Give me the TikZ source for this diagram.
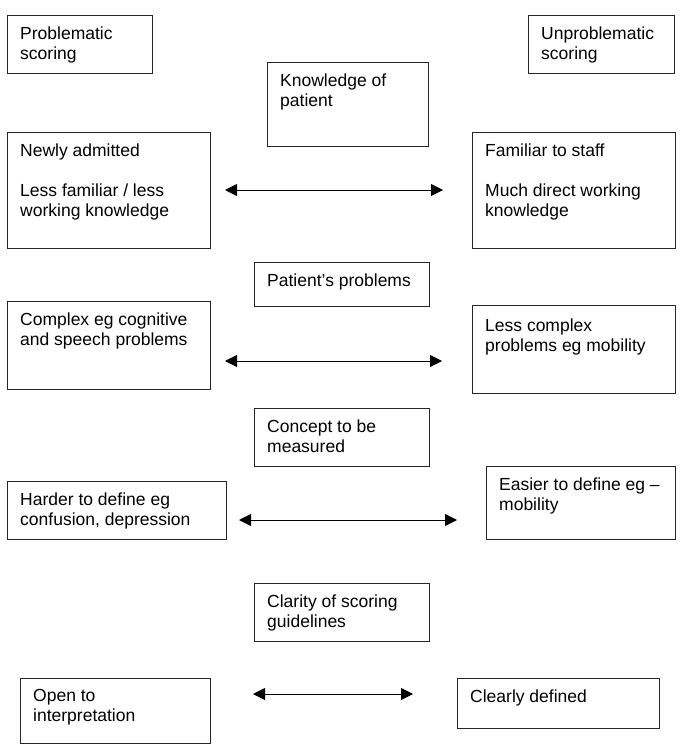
\documentclass[tikz,border=0pt]{standalone}
\usepackage{fontspec}
\setmainfont{Liberation Sans}
\usetikzlibrary{arrows.meta}

\begin{document}
\begin{tikzpicture}[x=1pt,y=-1pt]
\tikzset{box/.style={draw=black!85, line width=0.9pt, inner sep=0pt, anchor=north west},
    txt/.style={anchor=north west, align=left, inner xsep=13pt, inner ysep=11.5pt,
        font=\fontsize{17.5}{20}\selectfont},
    link/.style={line width=0.9pt, {Triangle[length=12pt,width=12pt]}-{Triangle[length=12pt,width=12pt]}}}
\useasboundingbox (0,0) rectangle (685,754);
% headings
\node[box, minimum width=145pt, minimum height=58pt,
    label={[txt]north west:{Problematic\\scoring}}] (prob) at (7,15) {};
\node[box, minimum width=146pt, minimum height=58pt,
    label={[txt]north west:{Unproblematic\\scoring}}] (unprob) at (528,15) {};
% knowledge of patient
\node[box, minimum width=161pt, minimum height=84pt,
    label={[txt]north west:{Knowledge of\\patient}}] (know) at (267,62) {};
\node[box, minimum width=203pt, minimum height=116pt,
    label={[txt]north west:{Newly admitted\\[20pt]Less familiar / less\\working knowledge}}] (newly) at (7,132) {};
\node[box, minimum width=203pt, minimum height=116pt,
    label={[txt]north west:{Familiar to staff\\[20pt]Much direct working\\knowledge}}] (famil) at (472,132) {};
\coordinate (k1) at (225,190);
\coordinate (k2) at (443,190);
\draw[link] (k1) -- (k2);
% patient's problems
\node[box, minimum width=175pt, minimum height=44pt,
    label={[txt]north west:{Patient’s problems}}] (patprob) at (254,262) {};
\node[box, minimum width=203pt, minimum height=88pt,
    label={[txt]north west:{Complex eg cognitive\\and speech problems}}] (complex) at (7,301) {};
\node[box, minimum width=203pt, minimum height=88pt,
    label={[txt, yshift=-2pt]north west:{Less complex\\problems eg mobility}}] (lesscomp) at (472,305) {};
\coordinate (p1) at (225,361);
\coordinate (p2) at (442,361);
\draw[link] (p1) -- (p2);
% concept to be measured
\node[box, minimum width=175pt, minimum height=58pt,
    label={[txt]north west:{Concept to be\\measured}}] (concept) at (254,408) {};
\node[box, minimum width=219pt, minimum height=58pt,
    label={[txt]north west:{Harder to define eg\\confusion, depression}}] (harder) at (7,481) {};
\node[box, minimum width=189pt, minimum height=73pt,
    label={[txt]north west:{Easier to define eg –\\mobility}}] (easier) at (486,466) {};
\coordinate (c1) at (239,520);
\coordinate (c2) at (457,520);
\draw[link] (c1) -- (c2);
% clarity of scoring guidelines
\node[box, minimum width=175pt, minimum height=58pt,
    label={[txt]north west:{Clarity of scoring\\guidelines}}] (clarity) at (254,583) {};
\node[box, minimum width=190pt, minimum height=65pt,
    label={[txt]north west:{Open to\\interpretation}}] (open) at (20,678) {};
\node[box, minimum width=202pt, minimum height=50pt,
    label={[txt]north west:{Clearly defined}}] (clearly) at (457,678) {};
\coordinate (g1) at (253,694);
\coordinate (g2) at (413,694);
\draw[link] (g1) -- (g2);
\end{tikzpicture}
\end{document}
